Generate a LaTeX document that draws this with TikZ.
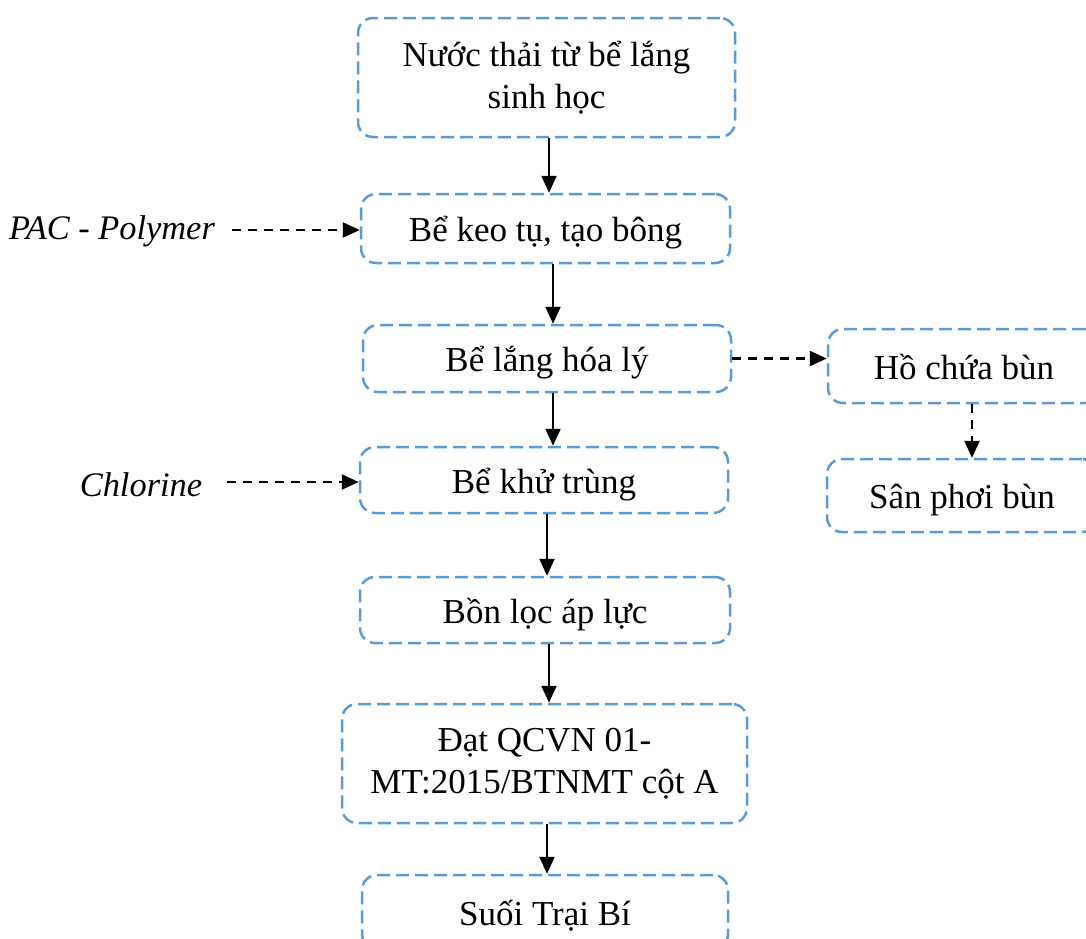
\documentclass[tikz,border=0pt]{standalone}
\usepackage{fontspec}
\setmainfont{Liberation Serif}
\usetikzlibrary{arrows.meta}
\definecolor{boxblue}{HTML}{5B9BD5}
\tikzset{
  stage/.style={draw=boxblue, line width=1.25pt, dash pattern=on 6.5pt off 3pt,
    rounded corners=7.5pt, inner sep=0pt, align=center,
    font=\fontsize{17.5}{21}\selectfont},
  single/.style={stage, text height=14.5pt, text depth=1.5pt},
  feed/.style={inner sep=0pt, font=\fontsize{17.2}{21}\selectfont\itshape},
  flow/.style={line width=1.1pt, -{Triangle[width=7.5pt,length=8.5pt]}},
  dflow/.style={line width=1.1pt, dash pattern=on 4.5pt off 3.5pt,
    -{Triangle[width=7.5pt,length=8.5pt]}}
}
\begin{document}
\begin{tikzpicture}[x=0.5pt,y=-0.5pt]
\useasboundingbox (0,0) rectangle (1086,938);
\clip (0,0) rectangle (1086,938);

% main treatment line
\node[stage, minimum width=188.5pt, minimum height=59.5pt] (b1) at (546.5,77.5)
  {Nước thải từ bể lắng\\sinh học};
\node[single, minimum width=184.5pt, minimum height=34.5pt] (b2) at (545.5,228.5)
  {Bể keo tụ, tạo bông};
\node[single, minimum width=184pt, minimum height=33.5pt] (b3) at (547,358.5)
  {Bể lắng hóa lý};
\node[single, minimum width=184pt, minimum height=33pt] (b4) at (544,480)
  {Bể khử trùng};
\node[single, minimum width=185pt, minimum height=33pt] (b5) at (545,610)
  {Bồn lọc áp lực};
\node[stage, minimum width=202.5pt, minimum height=59.5pt] (b6) at (544.5,763.5)
  {Đạt QCVN 01-\\MT:2015/BTNMT cột A};
\node[single, minimum width=183pt, minimum height=37pt] (b7) at (545,912)
  {Suối Trại Bí};

% sludge line
\node[single, minimum width=136pt, minimum height=37pt] (ho) at (964,366)
  {Hồ chứa bùn};
\node[single, minimum width=135pt, minimum height=36.5pt] (san) at (962,495.5)
  {Sân phơi bùn};

% chemical dosing
\node[feed] (pac) at (112,231) {PAC - Polymer};
\node[feed] (cl) at (141,485) {Chlorine};
\coordinate (pacend) at (232,230);
\coordinate (clend) at (227,482);
\coordinate (sludgex) at (972,0);

% connectors
\draw[flow] ([xshift=1.25pt]b1.south) -- ([xshift=1.25pt]b1.south |- b2.north);
\draw[flow] ([xshift=3.75pt]b2.south) -- ([xshift=3.75pt]b2.south |- b3.north);
\draw[flow] ([xshift=3pt]b3.south) -- ([xshift=3pt]b3.south |- b4.north);
\draw[flow] ([xshift=1.5pt]b4.south) -- ([xshift=1.5pt]b4.south |- b5.north);
\draw[flow] ([xshift=2pt]b5.south) -- ([xshift=2pt]b5.south |- b6.north);
\draw[flow] ([xshift=1.25pt]b6.south) -- ([xshift=1.25pt]b6.south |- b7.north);

\draw[dflow] (pacend) -- (pacend -| b2.west);
\draw[dflow] (clend) -- (clend -| b4.west);
\draw[dflow] (b3.east) -- (b3.east -| ho.west);
\draw[dflow] (sludgex |- ho.south) -- (sludgex |- san.north);
\end{tikzpicture}
\end{document}
